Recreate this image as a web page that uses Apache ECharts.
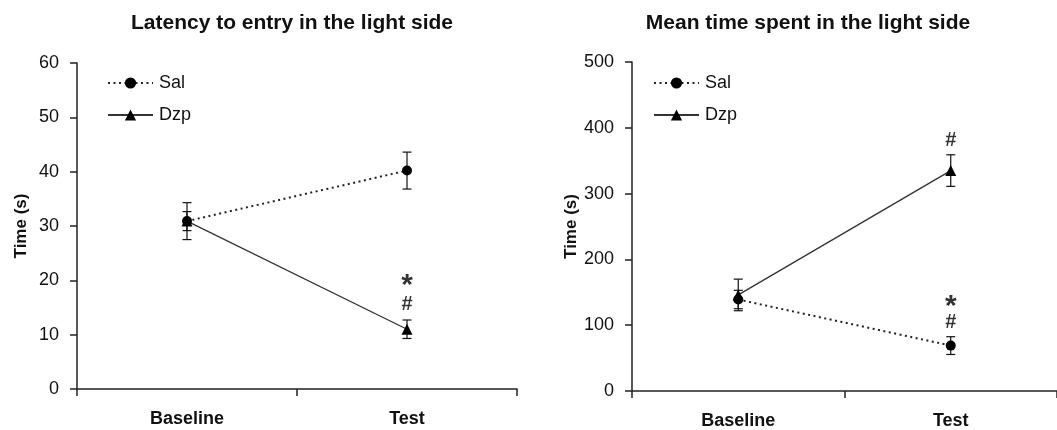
<!DOCTYPE html>
<html>
<head>
<meta charset="utf-8">
<script src="https://cdn.jsdelivr.net/npm/echarts@6/dist/echarts.min.js"></script>
<style>
  html, body { margin: 0; padding: 0; background: #fff; }
  #chart { width: 1057px; height: 430px; }
</style>
</head>
<body>
<div id="chart"></div>
<script>
// data
var phases = ['Baseline', 'Test'];

var latSal = [30.9, 40.2];
var latSalErr = [3.4, 3.4];
var latDzp = [30.9, 11.0];
var latDzpErr = [1.75, 1.7];
var latMarks = [['Test', 20.0, '*'], ['Test', 15.6, '#']];

var timeSal = [139, 69];
var timeSalErr = [14, 13.5];
var timeDzp = [146, 335];
var timeDzpErr = [24, 24];
var timeMarks = [['Test', 381, '#'], ['Test', 136, '*'], ['Test', 104, '#']];

var font = 'Liberation Sans, Arial, sans-serif';

function errData (vals, errs) {
  return vals.map(function (v, i) { return [i, v - errs[i], v + errs[i]]; });
}

function errorSeries (vals, errs, axis) {
  return {
    type: 'custom',
    xAxisIndex: axis,
    yAxisIndex: axis,
    data: errData(vals, errs),
    z: 1,
    silent: true,
    renderItem: function (params, api) {
      var lo = api.coord([api.value(0), api.value(1)]);
      var hi = api.coord([api.value(0), api.value(2)]);
      var w = 4.5;
      var st = { stroke: '#111', lineWidth: 1.2 };
      return {
        type: 'group',
        children: [
          { type: 'line', shape: { x1: lo[0], y1: lo[1], x2: hi[0], y2: hi[1] }, style: st },
          { type: 'line', shape: { x1: lo[0] - w, y1: lo[1], x2: lo[0] + w, y2: lo[1] }, style: st },
          { type: 'line', shape: { x1: hi[0] - w, y1: hi[1], x2: hi[0] + w, y2: hi[1] }, style: st }
        ]
      };
    }
  };
}

// '*' glyph sits high and small in the font, so it gets bigger and nudged down
function markSeries (marks, axis) {
  return {
    type: 'scatter',
    xAxisIndex: axis,
    yAxisIndex: axis,
    symbolSize: 0,
    silent: true,
    data: marks.map(function (m) {
      var item = { value: [m[0], m[1], m[2]] };
      if (m[2] === '*') item.label = { fontSize: 30, offset: [0, 5] };
      return item;
    }),
    label: {
      show: true,
      position: 'inside',
      formatter: function (p) { return p.value[2]; },
      color: '#000',
      fontFamily: font,
      fontWeight: 'bold',
      fontSize: 20
    }
  };
}

function salSeries (vals, axis) {
  return {
    name: 'Sal',
    type: 'line',
    xAxisIndex: axis,
    yAxisIndex: axis,
    data: vals,
    symbol: 'circle',
    symbolSize: 10,
    z: 3,
    itemStyle: { color: '#000' },
    lineStyle: { color: '#222', width: 2, type: [2, 3.5] }
  };
}

function dzpSeries (vals, axis) {
  return {
    name: 'Dzp',
    type: 'line',
    xAxisIndex: axis,
    yAxisIndex: axis,
    data: vals,
    symbol: 'triangle',
    symbolSize: 11,
    z: 3,
    itemStyle: { color: '#000' },
    lineStyle: { color: '#333', width: 1.3 }
  };
}

function xAx (idx) {
  return {
    type: 'category',
    gridIndex: idx,
    data: phases,
    boundaryGap: true,
    axisLine: { lineStyle: { color: '#222', width: 1.5 } },
    axisTick: { show: true, length: 7, interval: 0, lineStyle: { color: '#222', width: 1.5 } },
    axisLabel: { margin: 21, color: '#111', fontFamily: font, fontWeight: 'bold', fontSize: 18 },
    splitLine: { show: false }
  };
}

function yAx (idx, max, step) {
  return {
    type: 'value',
    gridIndex: idx,
    min: 0,
    max: max,
    interval: step,
    name: 'Time (s)',
    nameLocation: 'middle',
    nameRotate: 90,
    nameGap: 47,
    nameTextStyle: { color: '#111', fontFamily: font, fontWeight: 'bold', fontSize: 17 },
    axisLine: { show: true, lineStyle: { color: '#222', width: 1.5 } },
    axisTick: { show: true, length: 7, lineStyle: { color: '#222', width: 1.5 } },
    axisLabel: { margin: 18, color: '#111', fontFamily: font, fontSize: 18 },
    splitLine: { show: false }
  };
}

function legendAt (left) {
  return {
    orient: 'vertical',
    left: left,
    top: 74,
    padding: 0,
    itemWidth: 45,
    itemHeight: 14,
    itemGap: 14,
    data: ['Sal', 'Dzp'],
    textStyle: { color: '#111', fontFamily: font, fontSize: 18, padding: [0, 0, 0, 1] },
    selectedMode: false
  };
}

var chart = echarts.init(document.getElementById('chart'));
chart.setOption({
  animation: false,
  backgroundColor: '#fff',
  title: [
    { text: 'Latency to entry in the light side', left: 287, top: 8, textAlign: 'center',
      textStyle: { fontFamily: font, fontWeight: 'bold', fontSize: 21, color: '#111' } },
    { text: 'Mean time spent in the light side', left: 803, top: 8, textAlign: 'center',
      textStyle: { fontFamily: font, fontWeight: 'bold', fontSize: 21, color: '#111' } }
  ],
  legend: [legendAt(107), legendAt(653)],
  grid: [
    { left: 77, top: 63, width: 440, height: 326 },
    { left: 632, top: 62, width: 434, height: 329 }
  ],
  xAxis: [xAx(0), xAx(1)],
  yAxis: [yAx(0, 60, 10), yAx(1, 500, 100)],
  series: [
    errorSeries(latSal, latSalErr, 0),
    errorSeries(latDzp, latDzpErr, 0),
    salSeries(latSal, 0),
    dzpSeries(latDzp, 0),
    markSeries(latMarks, 0),
    errorSeries(timeSal, timeSalErr, 1),
    errorSeries(timeDzp, timeDzpErr, 1),
    salSeries(timeSal, 1),
    dzpSeries(timeDzp, 1),
    markSeries(timeMarks, 1)
  ]
});
</script>
</body>
</html>
